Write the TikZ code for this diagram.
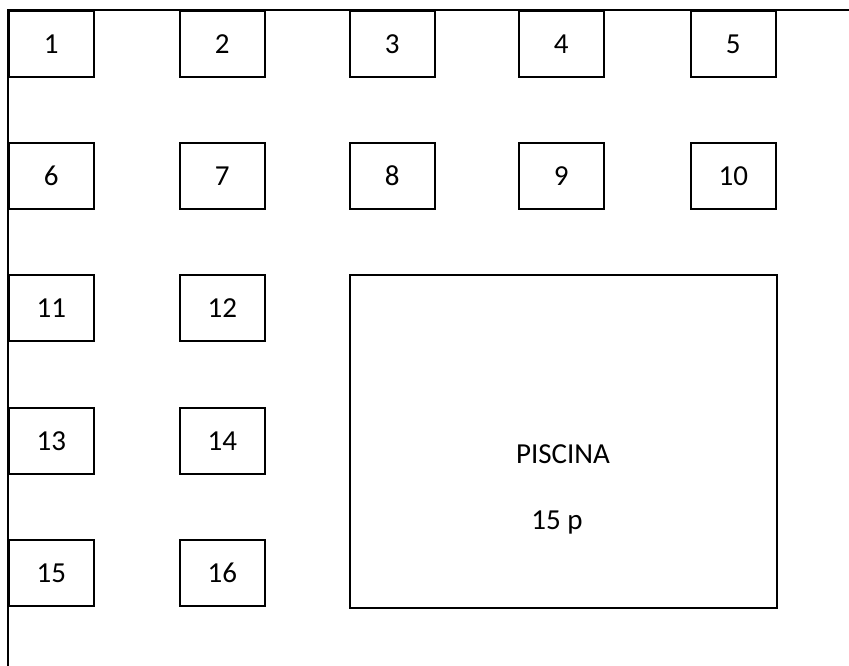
\documentclass[tikz,border=0pt]{standalone}
\usepackage{fontspec}
\setmainfont{Carlito}
\usetikzlibrary{positioning}
\tikzset{
    mesa/.style={draw, line width=1.6pt, minimum width=85pt, minimum height=66pt, inner sep=0pt, anchor=north west, font=\fontsize{29}{34}\selectfont},
    muro/.style={line width=1.6pt},
  }

\begin{document}
\begin{tikzpicture}[x=1pt, y=-1pt]
				  \useasboundingbox (0,0) rectangle (849,666);
				  %murs
				  \coordinate(C) at (8,10);
				  \coordinate(E) at (849,10);
				  \coordinate(S) at (8,666);
				  \draw[muro] (E) -- (C) -- (S);
				  
				  %mesas
				  \node[mesa] (t1) at (8,10) {1};
				  \node[mesa] (t2) at (179,10) {2};
				  \node[mesa] (t3) at (349,10) {3};
				  \node[mesa] (t4) at (518,10) {4};
				  \node[mesa] (t5) at (690,10) {5};
				  \node[mesa] (t6) at (8,142) {6};
				  \node[mesa] (t7) at (179,142) {7};
				  \node[mesa] (t8) at (349,142) {8};
				  \node[mesa] (t9) at (518,142) {9};
				  \node[mesa] (t10) at (690,142) {10};
				  \node[mesa] (t11) at (8,274) {11};
				  \node[mesa] (t12) at (179,274) {12};
				  \node[mesa] (t13) at (8,407) {13};
				  \node[mesa] (t14) at (179,407) {14};
				  \node[mesa] (t15) at (8,539) {15};
				  \node[mesa] (t16) at (179,539) {16};
				  
				  %piscina
				  \node[mesa, minimum width=427pt, minimum height=333pt] (pool) at (349,274) {};
				  \node[anchor=base, font=\fontsize{29}{34}\selectfont, inner sep=0pt] (poolname) at (563,463) {PISCINA};
				  \node[anchor=base, font=\fontsize{29}{34}\selectfont, inner sep=0pt] (poolcap) at (557,529) {15 p};
				  \end{tikzpicture}
\end{document}
